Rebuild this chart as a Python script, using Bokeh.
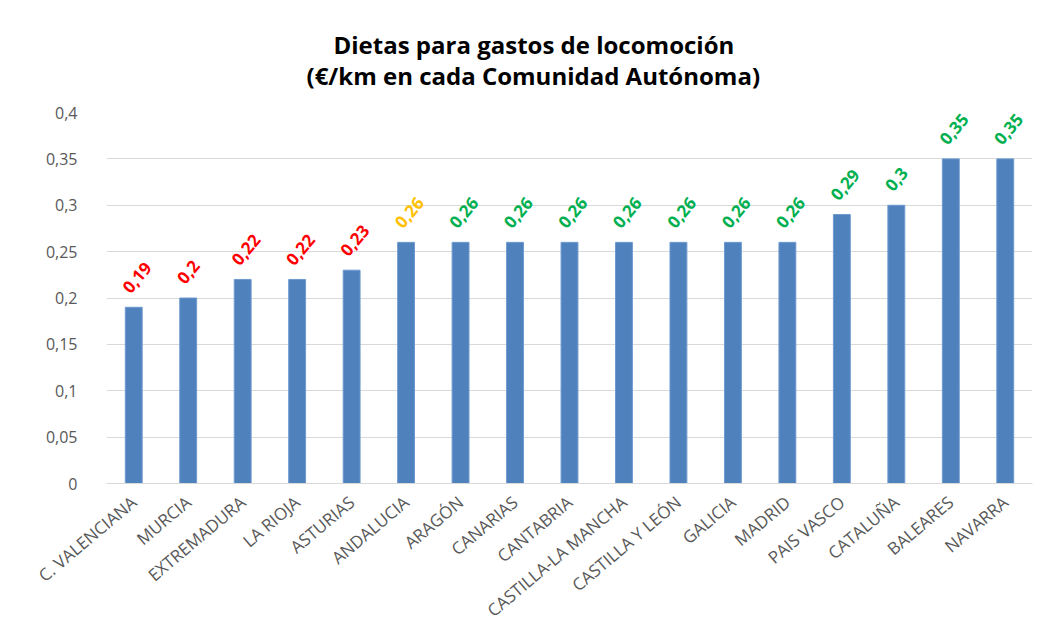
import math
from bokeh.plotting import figure
from bokeh.models import ColumnDataSource, FixedTicker, Title
from bokeh.core.properties import value
from bokeh.embed import file_html
from bokeh.resources import INLINE

regions = ["C. VALENCIANA", "MURCIA", "EXTREMADURA", "LA RIOJA", "ASTURIAS",
           "ANDALUCIA", "ARAGÓN", "CANARIAS", "CANTABRIA", "CASTILLA-LA MANCHA",
           "CASTILLA Y LEÓN", "GALICIA", "MADRID", "PAIS VASCO", "CATALUÑA",
           "BALEARES", "NAVARRA"]
values = [0.19, 0.2, 0.22, 0.22, 0.23, 0.26, 0.26, 0.26, 0.26, 0.26,
          0.26, 0.26, 0.26, 0.29, 0.3, 0.35, 0.35]
label_colors = ["#FF0000"] * 5 + ["#FFC000"] + ["#00B050"] * 11
y_ticks = [0, 0.05, 0.1, 0.15, 0.2, 0.25, 0.3, 0.35, 0.4]
y_tick_labels = ["0", "0,05", "0,1", "0,15", "0,2", "0,25", "0,3", "0,35", "0,4"]
title_lines = ["Dietas para gastos de locomoción", "(€/km en cada Comunidad Autónoma)"]

labels = [str(v).replace(".", ",") for v in values]
src = ColumnDataSource(dict(x=regions, top=values, lab=labels, col=label_colors))

p = figure(x_range=regions, y_range=(0, 0.4), width=1044, height=633,
           output_backend="svg", toolbar_location=None, title=None,
           min_border_left=106, min_border_right=12, min_border_bottom=150,
           min_border_top=112)

p.vbar(x="x", top="top", width=0.31, source=src, fill_color="#4F81BD",
       line_color="#6E9AD0", line_width=1)

p.text(x="x", y="top", text="lab", source=src, angle=0.87,
       text_align="left", text_baseline="middle", x_offset=-8, y_offset=-17,
       text_color="col", text_font=value("Open Sans"), text_font_style="bold",
       text_font_size="17px")

# two-line title (first added is nearest to the frame)
for line, standoff, off in [(title_lines[1], 42, 200), (title_lines[0], -50, 227)]:
    p.add_layout(Title(text=line, align="left", offset=off, standoff=standoff,
                       text_font="Open Sans", text_font_style="bold",
                       text_font_size="24px", text_color="#000000"), "above")

p.xgrid.grid_line_color = None
p.ygrid.grid_line_color = "#D9D9D9"
p.ygrid.grid_line_width = 1
p.yaxis.ticker = FixedTicker(ticks=y_ticks)
p.yaxis.major_label_overrides = {t: l for t, l in zip(y_ticks, y_tick_labels)}
p.yaxis.axis_line_color = None
p.yaxis.major_tick_line_color = None
p.yaxis.minor_tick_line_color = None
p.yaxis.major_label_text_font = "Open Sans"
p.yaxis.major_label_text_font_size = "16px"
p.yaxis.major_label_text_color = "#595959"
p.yaxis.major_label_standoff = 23

p.xaxis.axis_line_color = "#D9D9D9"
p.xaxis.major_tick_line_color = None
p.xaxis.minor_tick_line_color = None
p.xaxis.major_label_orientation = 0.70
p.xaxis.major_label_text_font = "Open Sans"
p.xaxis.major_label_text_font_size = "17px"
p.xaxis.major_label_text_color = "#595959"
p.xaxis.major_label_standoff = 10

p.outline_line_color = None
p.background_fill_color = "white"
p.border_fill_color = "white"
p.x_range.range_padding = 0

open("out.html", "w").write(file_html(p, INLINE))
